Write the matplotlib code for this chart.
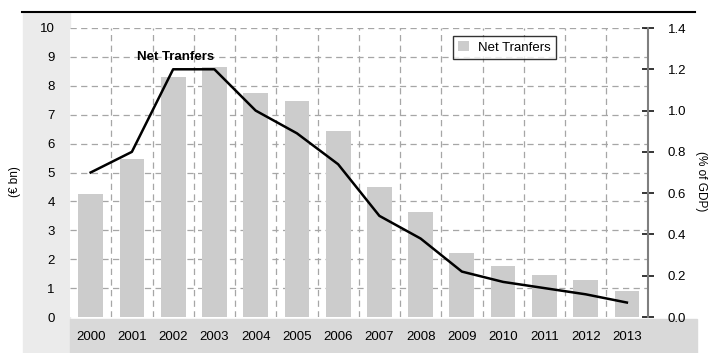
import matplotlib
matplotlib.use("Agg")
import matplotlib.pyplot as plt
from matplotlib.patches import Rectangle
from matplotlib.lines import Line2D
import numpy as np

plt.rcParams['font.family'] = ['Liberation Sans', 'DejaVu Sans']
plt.rcParams['font.size'] = 9.5

# Net transfers: € bn (bars, left axis) and % of GDP (line, right axis)
years = ['2000', '2001', '2002', '2003', '2004', '2005', '2006',
         '2007', '2008', '2009', '2010', '2011', '2012', '2013']
transfers_bn = [4.27, 5.45, 8.32, 8.64, 7.76, 7.48, 6.43,
                4.51, 3.64, 2.20, 1.75, 1.47, 1.29, 0.91]
transfers_gdp = [0.70, 0.80, 1.20, 1.20, 1.00, 0.89, 0.74,
                 0.49, 0.38, 0.22, 0.17, 0.14, 0.11, 0.07]

W, H = 708, 353
fig = plt.figure(figsize=(W / 100, H / 100), dpi=100)

# grey side panel behind the left tick labels and band behind the years
fig.add_artist(Rectangle((23 / W, 0), 47 / W, 1 - 12 / H,
                         transform=fig.transFigure, color='#ebebeb', zorder=0))
fig.add_artist(Rectangle((70 / W, 0), 627 / W, (H - 319) / H,
                         transform=fig.transFigure, color='#d9d9d9', zorder=0))
fig.add_artist(Line2D([22 / W, 695 / W], [1 - 11.5 / H, 1 - 11.5 / H],
                      transform=fig.transFigure, color='black', lw=1.5))

ax = fig.add_axes([70 / W, (H - 317) / H, 577.5 / W, 289 / H])
x = np.arange(len(years))
ax.bar(x, transfers_bn, width=0.6, color='#cccccc', label='Net Tranfers', zorder=2)
ax.set_xlim(-0.5, len(years) - 0.5)
ax.set_ylim(0, 10)
ax.set_yticks(range(0, 11))
ax.set_xticks(x)
ax.set_xticklabels(years)
ax.set_xticks(np.arange(0.5, len(years) - 1, 1), minor=True)

grid_kw = dict(color='#a6a6a6', linestyle=(0, (5, 3.5)), linewidth=0.9)
ax.grid(True, which='major', axis='y', **grid_kw)
ax.grid(True, which='minor', axis='x', **grid_kw)
ax.get_ygridlines()[0].set_visible(False)
ax.set_axisbelow(True)

for s in ax.spines.values():
    s.set_visible(False)
ax.tick_params(axis='x', which='both', length=0, pad=10, labelsize=9.5)
ax.tick_params(axis='y', length=0, pad=11, labelsize=9.5)
ax.set_ylabel('(€ bn)', fontsize=8.5)
ax.yaxis.set_label_coords(-0.085, 0.47)

ax.text(2.05, 9.0, 'Net Tranfers', ha='center', va='center',
        fontsize=9.5, fontweight='bold', zorder=5)

leg = ax.legend(loc='upper left', bbox_to_anchor=(0.663, 0.972), fontsize=9.5,
                frameon=True, fancybox=False, edgecolor='black',
                handlelength=0.8, handleheight=0.8, borderpad=0.4,
                handletextpad=0.7, borderaxespad=0)
leg.get_frame().set_linewidth(1.0)

# right axis: share of GDP
ax2 = ax.twinx()
ax2.plot(x, transfers_gdp, color='black', lw=1.8, zorder=4)
ax2.set_ylim(0, 1.4)
ax2.set_yticks(np.arange(0, 1.41, 0.2))
ax2.set_yticklabels([f'{v:.1f}' for v in np.arange(0, 1.41, 0.2)])
for name, s in ax2.spines.items():
    s.set_visible(name == 'right')
ax2.spines['right'].set_color('#7f7f7f')
ax2.spines['right'].set_linewidth(1.5)
ax2.tick_params(axis='y', direction='inout', length=9, width=1.1,
                color='black', pad=10, labelsize=9.5)
ax2.set_ylabel('(% of GDP)', rotation=270, fontsize=8.5, va='center')
ax2.yaxis.set_label_coords(1.093, 0.47)

fig.savefig('out.png', dpi=100)
